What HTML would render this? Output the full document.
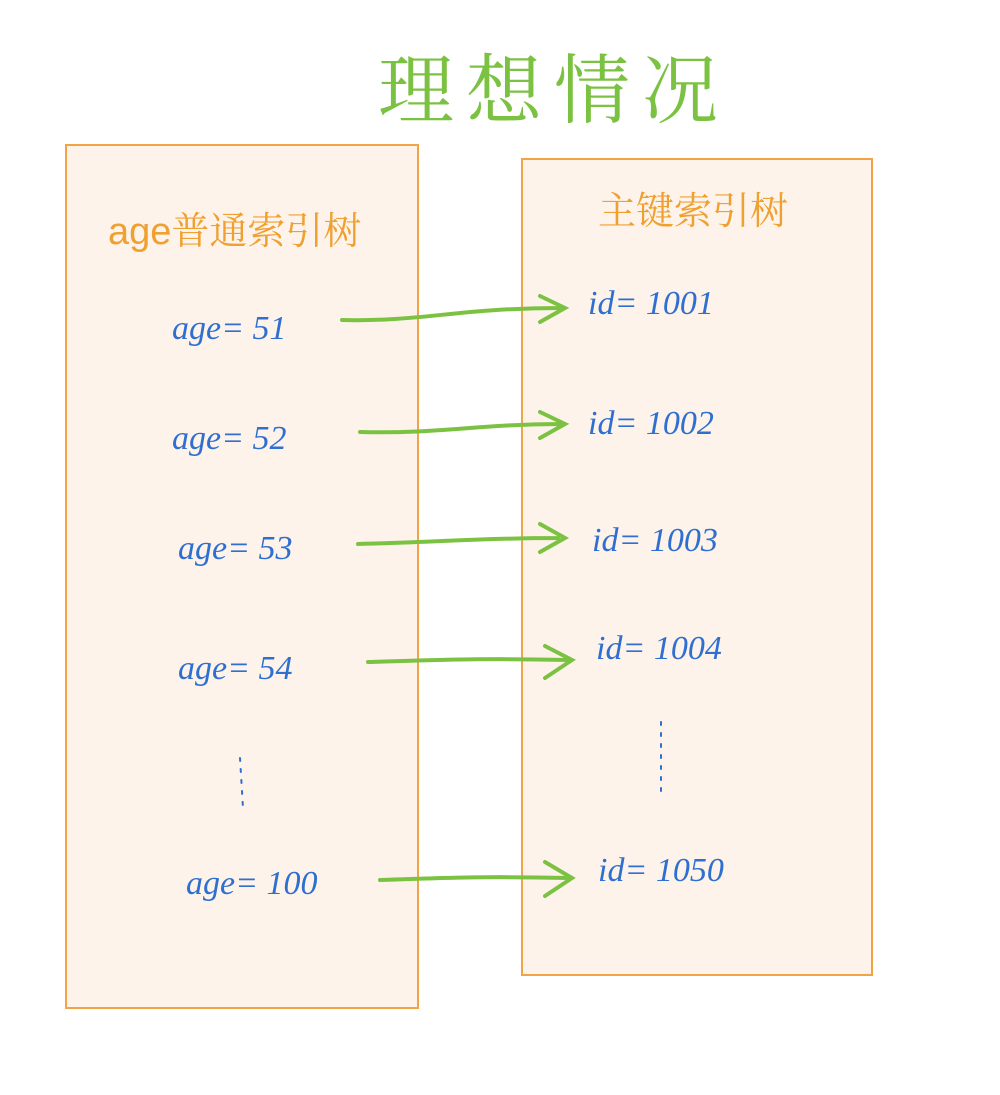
<!DOCTYPE html>
<html><head><meta charset="utf-8"><style>
body{margin:0;width:1000px;height:1095px;background:#fff;position:relative;overflow:hidden;font-family:"Liberation Sans","Noto Sans CJK SC",sans-serif}
.box{position:absolute;background:#fdf3ea;border:2px solid #f0a445;box-sizing:border-box}
.t{position:absolute;white-space:nowrap}
.b{color:#2f6fd0;font-size:34px;font-family:"Liberation Serif","Noto Sans CJK SC",serif;font-style:italic}
.o{color:#f0a030;font-size:38px;font-family:"Liberation Sans","Noto Serif CJK SC",serif}
</style></head><body>
<div class="t" style="left:378px;top:30px;font-size:76px;color:#7cc242;font-family:'Noto Serif CJK SC',serif;letter-spacing:12px">理想情况</div>
<div class="box" style="left:65px;top:144px;width:354px;height:865px"></div>
<div class="box" style="left:521px;top:158px;width:352px;height:818px"></div>
<div class="t o" style="left:108px;top:200px">age普通索引树</div>
<div class="t o" style="left:598px;top:180px">主键索引树</div>
<div class="t b" style="left:172px;top:310px">age= 51</div>
<div class="t b" style="left:172px;top:420px">age= 52</div>
<div class="t b" style="left:178px;top:530px">age= 53</div>
<div class="t b" style="left:178px;top:650px">age= 54</div>
<div class="t b" style="left:186px;top:865px">age= 100</div>
<div class="t b" style="left:588px;top:285px">id= 1001</div>
<div class="t b" style="left:588px;top:405px">id= 1002</div>
<div class="t b" style="left:592px;top:522px">id= 1003</div>
<div class="t b" style="left:596px;top:630px">id= 1004</div>
<div class="t b" style="left:598px;top:852px">id= 1050</div>
<svg width="1000" height="1095" style="position:absolute;left:0;top:0" fill="none" stroke="#7cc242" stroke-width="4" stroke-linecap="round">
<path d="M342 320 C420 322 460 308 560 308 M540 296 L565 308 L540 322"/>
<path d="M360 432 C440 434 480 424 560 424 M540 412 L565 424 L540 438"/>
<path d="M358 544 C440 542 480 538 558 538 M540 524 L565 538 L540 552"/>
<path d="M368 662 C440 660 480 658 568 660 M545 646 L572 660 L545 678"/>
<path d="M380 880 C440 878 480 876 568 878 M545 862 L572 878 L545 896"/>
<g stroke="#2f6fd0" stroke-width="2" stroke-dasharray="3 8"><path d="M240 758 L243 808"/><path d="M661 722 L661 792"/></g>
</svg>
</body></html>
